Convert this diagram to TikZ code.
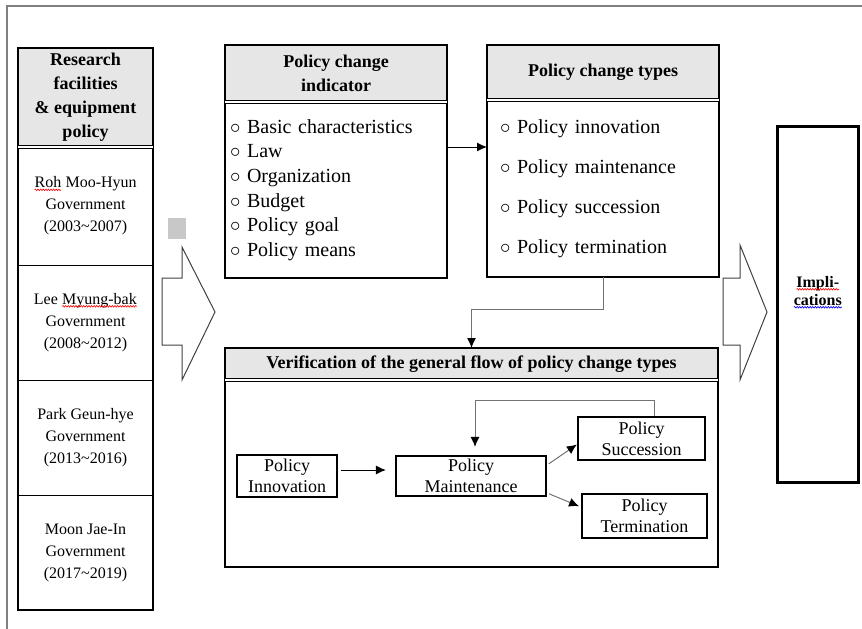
\documentclass[tikz,border=0pt]{standalone}
\usepackage{fontspec}
\setmainfont{Liberation Serif}
\usetikzlibrary{positioning,arrows.meta,decorations.pathmorphing}

\definecolor{headgray}{RGB}{230,230,230}
\definecolor{sqgray}{RGB}{200,200,200}
\definecolor{framegray}{RGB}{128,128,128}

% wavy spell-check mark under a word
\newcommand{\spellwave}[2]{\tikz[baseline=(sp.base)]{%
  \node[inner sep=0pt,outer sep=0pt,draw=none,fill=none,minimum width=0pt,minimum height=0pt,text width=,align=none] (sp) {#2};
  \draw[#1,line width=0.6pt,decorate,decoration={snake,amplitude=0.8pt,segment length=2.6pt}]
    ([yshift=-2pt]sp.base west) -- ([yshift=-2pt]sp.base east);}}

\tikzset{
  headcell/.style={fill=headgray, inner sep=0pt, outer sep=0pt, align=center,
    font=\bfseries\fontsize{18}{24}\selectfont},
  listcell/.style={inner xsep=5pt, inner ysep=0pt, outer sep=0pt, align=left,
    font=\fontsize{20}{24.7}\selectfont},
  govrow/.style={draw, line width=1pt, minimum width=135pt, minimum height=115pt,
    inner sep=0pt, outer sep=0pt, align=center, font=\fontsize{16}{22}\selectfont},
  flowbox/.style={draw, line width=2.2pt, inner sep=0pt, align=center,
    font=\fontsize{18}{21}\selectfont},
  boxline/.style={line width=2pt},
  sepline/.style={double, line width=1pt, double distance=1.2pt},
  bigarrow/.style={draw=black!75, line width=1pt, line join=miter},
  arr/.style={-{Latex[length=10pt,width=9pt]}, line width=1pt},
  arrgray/.style={-{Latex[length=10pt,width=9pt,color=black]}, draw=black!55, line width=1pt},
}

\begin{document}
\begin{tikzpicture}[x=1pt,y=-1pt]
  \useasboundingbox (0,0) rectangle (862,629);
  % page frame
  \draw[framegray, line width=1.5pt] (7,629) -- (7,6) -- (862,6);

  % left column: governments
  \node[headcell, minimum width=135pt, minimum height=99pt, anchor=north west] (govhead) at (18,48)
    {Research\\facilities\\\& equipment\\policy};
  \node[govrow, minimum height=118pt, below=0pt of govhead] (roh)
    {\spellwave{red}{Roh} Moo-Hyun\\Government\\(2003\textasciitilde2007)};
  \node[govrow, below=0pt of roh] (lee)
    {Lee \spellwave{red}{Myung-bak}\\Government\\(2008\textasciitilde2012)};
  \node[govrow, below=0pt of lee] (park)
    {Park Geun-hye\\Government\\(2013\textasciitilde2016)};
  \node[govrow, below=0pt of park] (moon)
    {Moon Jae-In\\Government\\(2017\textasciitilde2019)};
  \draw[boxline] (govhead.north west) rectangle (moon.south east);
  \draw[sepline] (govhead.south west) -- (govhead.south east);

  % small gray mark and first big arrow
  \fill[sqgray] (168,218) rectangle (186,239);
  \draw[bigarrow] (162,278) -- (182,278) -- (182,247) -- (215,312) -- (182,380) -- (182,345) -- (162,345) -- cycle;

  % policy change indicator
  \node[headcell, minimum width=222pt, minimum height=57pt, anchor=north west] (indhead) at (225,45)
    {Policy change\\indicator};
  \node[listcell, text width=212pt, minimum height=176pt, below=0pt of indhead] (indbody)
    {$\circ$ Basic characteristics\\$\circ$ Law\\$\circ$ Organization\\$\circ$ Budget\\$\circ$ Policy goal\\$\circ$ Policy means};
  \draw[boxline] (indhead.north west) rectangle (indbody.south east);
  \draw[sepline] (indhead.south west) -- (indhead.south east);

  % policy change types
  \node[headcell, minimum width=232pt, minimum height=55pt, anchor=north west] (typehead) at (487,45)
    {Policy change types};
  \node[listcell, inner xsep=13pt, text width=206pt, minimum height=177pt, font=\fontsize{20}{40}\selectfont,
    below=0pt of typehead] (typebody)
    {$\circ$ Policy innovation\\$\circ$ Policy maintenance\\$\circ$ Policy succession\\$\circ$ Policy termination};
  \draw[boxline] (typehead.north west) rectangle (typebody.south east);
  \draw[sepline] (typehead.south west) -- (typehead.south east);

  \draw[arr] ([yshift=-45pt]indbody.north east) -- ([yshift=-47pt]typebody.north west);

  % verification of the general flow
  \node[headcell, minimum width=493pt, minimum height=32pt, anchor=north west] (verhead) at (225,348)
    {Verification of the general flow of policy change types};
  \node[listcell, minimum width=493pt, minimum height=187pt, inner sep=0pt, below=0pt of verhead] (verbody) {};
  \draw[boxline] (verhead.north west) rectangle (verbody.south east);
  \draw[sepline] (verhead.south west) -- (verhead.south east);

  \draw[arrgray] (typebody.south) -- ++(0,32) -| (verhead.north);

  \node[flowbox, minimum width=100pt, minimum height=42pt] (innov) at (287,476) {Policy\\Innovation};
  \node[flowbox, minimum width=150pt, minimum height=40pt] (maint) at (471,476) {Policy\\Maintenance};
  \node[flowbox, minimum width=127pt, minimum height=43pt] (succ) at (641.5,438.5) {Policy\\Succession};
  \node[flowbox, minimum width=125pt, minimum height=44pt] (term) at (644.5,516) {Policy\\Termination};

  \draw[arr, shorten <=3pt, shorten >=9pt] ([yshift=6pt]innov.east) -- ([yshift=6pt]maint.west);
  \draw[arrgray, shorten <=2pt] ([yshift=11pt]maint.east) -- ([yshift=-6pt]succ.west);
  \draw[arrgray, shorten <=2pt, shorten >=2pt] ([yshift=-17pt]maint.east) -- ([yshift=9pt]term.west);
  \draw[arrgray, shorten >=8pt] ([xshift=13pt]succ.north) -- ++(0,-15) -| ([xshift=4pt]maint.north);

  % second big arrow and implications
  \draw[bigarrow] (723,278) -- (740,278) -- (740,245) -- (767,312) -- (740,380) -- (740,345) -- (723,345) -- cycle;
  \node[draw, line width=2.5pt, minimum width=81pt, minimum height=356pt, anchor=north west] (impl) at (776,125) {};
  \node[align=center, font=\bfseries\fontsize{16}{18}\selectfont] (impltext) at ([yshift=12pt]impl.center)
    {\spellwave{red}{Impli-}\\\spellwave{blue}{cations}};
\end{tikzpicture}
\end{document}
